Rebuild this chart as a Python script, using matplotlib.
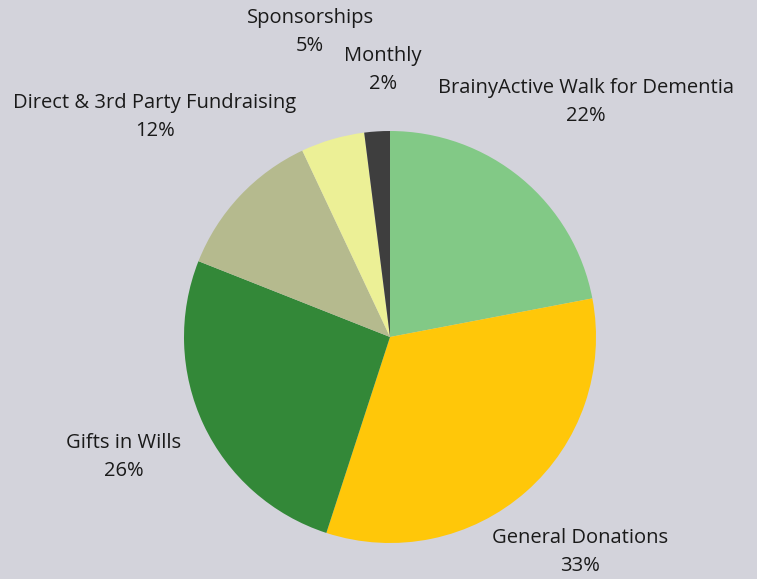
import numpy as np
import matplotlib.pyplot as plt

# data
labels = ["BrainyActive Walk for Dementia", "General Donations", "Gifts in Wills",
          "Direct & 3rd Party Fundraising", "Sponsorships", "Monthly"]
shares = [22, 33, 26, 12, 5, 2]
colors = ["#82c986", "#ffc709", "#338838", "#b5ba8e", "#ecf096", "#3e3e3e"]

# label anchor points in pixels (x, y from top)
label_pos = [(586, 102), (580, 552), (124, 457), (155, 117), (310, 32), (383, 70)]

plt.rcParams['font.family'] = ['Open Sans', 'DejaVu Sans']
bg = "#d3d3db"
W, H = 757, 579
fig = plt.figure(figsize=(W/100, H/100), dpi=100, facecolor=bg)
ax = fig.add_axes([0, 0, 1, 1])
ax.set_facecolor(bg)

ax.pie(shares, colors=colors, startangle=90, counterclock=False,
       center=(390, H - 337), radius=206, frame=True,
       wedgeprops=dict(linewidth=0))
ax.set_xlim(0, W)
ax.set_ylim(0, H)
ax.set_aspect('equal')
ax.axis('off')

for name, val, (x, y) in zip(labels, shares, label_pos):
    ax.text(x, H - y, f"{name}\n{val}%", ha='center', va='center',
            fontsize=14.5, color='#1a1a1a', linespacing=1.5)

fig.savefig("out.png", dpi=100, facecolor=bg)
